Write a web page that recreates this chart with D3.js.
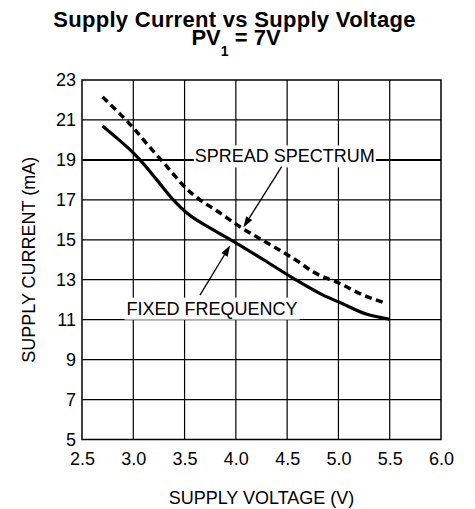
<!DOCTYPE html>
<html>
<head>
<meta charset="utf-8">
<script src="https://cdn.jsdelivr.net/npm/d3@7"></script>
<style>
  html, body { margin: 0; padding: 0; background: #fff; }
  svg { display: block; }
  text { font-family: "Liberation Sans", Arial, Helvetica, sans-serif; fill: #000; }
</style>
</head>
<body>
<svg id="chart" width="475" height="509"></svg>
<script>
// ---- data ----
const xTicks = [2.5, 3.0, 3.5, 4.0, 4.5, 5.0, 5.5, 6.0];
const yTicks = [5, 7, 9, 11, 13, 15, 17, 19, 21, 23];

const fixedV = [2.70, 2.85, 3.00, 3.10, 3.23, 3.39, 3.52, 3.78, 4.00, 4.27, 4.56, 4.85, 5.01, 5.27, 5.50];
const fixedI = [20.70, 20.05, 19.35, 18.80, 18.00, 17.00, 16.35, 15.50, 14.85, 14.00, 13.07, 12.23, 11.87, 11.28, 11.02];

const spreadV = [2.70, 3.00, 3.15, 3.34, 3.50, 3.65, 3.80, 4.04, 4.37, 4.61, 4.75, 5.01, 5.24, 5.45];
const spreadI = [22.15, 20.60, 19.70, 18.60, 17.65, 17.00, 16.50, 15.65, 14.65, 13.90, 13.40, 12.82, 12.23, 11.85];

// ---- layout ----
const svg = d3.select("#chart");
const x = d3.scaleLinear().domain([2.5, 6.0]).range([82, 441]);
const y = d3.scaleLinear().domain([5, 23]).range([439.5, 80]);

// title
svg.append("text")
  .attr("x", 234.5).attr("y", 26.5)
  .attr("text-anchor", "middle")
  .style("font-weight", "bold").style("font-size", "22px")
  .style("letter-spacing", "0.3px")
  .text("Supply Current vs Supply Voltage");
const t2 = svg.append("text")
  .attr("x", 236).attr("y", 44.5)
  .attr("text-anchor", "middle")
  .style("font-weight", "bold").style("font-size", "22px");
t2.append("tspan").text("PV");
t2.append("tspan").attr("dy", 11).style("font-size", "14px").text("1");
t2.append("tspan").attr("dy", -11).text(" = 7V");

// grid
const g = svg.append("g");
g.selectAll("line.vx").data(xTicks.slice(1, -1)).join("line")
  .attr("x1", d => x(d)).attr("x2", d => x(d))
  .attr("y1", y(5)).attr("y2", y(23))
  .attr("stroke", "#000").attr("stroke-width", 1.2);
g.selectAll("line.hy").data(yTicks.slice(1, -1)).join("line")
  .attr("x1", x(2.5)).attr("x2", x(6.0))
  .attr("y1", d => y(d)).attr("y2", d => y(d))
  .attr("stroke", "#000").attr("stroke-width", 1.2);

// frame
svg.append("rect")
  .attr("x", x(2.5)).attr("y", y(23))
  .attr("width", x(6.0) - x(2.5)).attr("height", y(5) - y(23))
  .attr("fill", "none").attr("stroke", "#000").attr("stroke-width", 1.5);

// axes tick labels via d3 axes
const xAxis = d3.axisBottom(x).tickValues(xTicks).tickSize(0).tickPadding(13)
  .tickFormat(d3.format(".1f"));
const xa = svg.append("g").attr("transform", `translate(0,${y(5)})`).call(xAxis);
xa.select(".domain").remove();
xa.selectAll("text").style("font-size", "18px")
  .style("font-family", '"Liberation Sans", Arial, sans-serif');

const yAxis = d3.axisLeft(y).tickValues(yTicks).tickSize(0).tickPadding(6)
  .tickFormat(d3.format("d"));
const ya = svg.append("g").attr("transform", `translate(${x(2.5)},0)`).call(yAxis);
ya.select(".domain").remove();
ya.selectAll("text").style("font-size", "18px")
  .style("font-family", '"Liberation Sans", Arial, sans-serif');

// axis titles
svg.append("text")
  .attr("x", (x(2.5) + x(6.0)) / 2).attr("y", 504)
  .attr("text-anchor", "middle").style("font-size", "18px")
  .text("SUPPLY VOLTAGE (V)");
svg.append("text")
  .attr("transform", `translate(35,${(y(5) + y(23)) / 2}) rotate(-90)`)
  .attr("text-anchor", "middle").style("font-size", "18px")
  .text("SUPPLY CURRENT (mA)");

// curves
const line = d3.line().curve(d3.curveMonotoneX);
svg.append("path")
  .attr("d", line(fixedV.map((v, i) => [x(v), y(fixedI[i])])))
  .attr("fill", "none").attr("stroke", "#000").attr("stroke-width", 3.2)
  .attr("stroke-linejoin", "round");
svg.append("path")
  .attr("d", line(spreadV.map((v, i) => [x(v), y(spreadI[i])])))
  .attr("fill", "none").attr("stroke", "#000").attr("stroke-width", 3.5)
  .attr("stroke-dasharray", "7,4.5");

// annotations (data coordinates)
function label(txt, v, I, dyPx, leader) {
  const tx = svg.append("text")
    .attr("x", x(v)).attr("y", y(I) + dyPx)
    .style("font-size", "18px").text(txt);
  const bb = tx.node().getBBox();
  svg.insert("rect", () => tx.node())
    .attr("x", bb.x - 2).attr("y", bb.y - 1)
    .attr("width", bb.width + 4).attr("height", bb.height + 2)
    .attr("fill", "#fff");
  if (leader) {
    svg.append("line").attr("x1", x(2.5)).attr("x2", bb.x - 1)
      .attr("y1", y(I)).attr("y2", y(I))
      .attr("stroke", "#000").attr("stroke-width", 2);
    svg.append("line").attr("x1", bb.x + bb.width + 1).attr("x2", x(6.0))
      .attr("y1", y(I)).attr("y2", y(I))
      .attr("stroke", "#000").attr("stroke-width", 2);
  }
}
label("SPREAD SPECTRUM", 3.60, 19, 2.5, true);
label("FIXED FREQUENCY", 2.935, 11, -5, false);

function arrow(v0, I0, v1, I1) {
  const x0 = x(v0), y0 = y(I0), x1 = x(v1), y1 = y(I1);
  const ang = Math.atan2(y1 - y0, x1 - x0);
  const len = 11, half = 3.6;
  const bx = x1 - len * Math.cos(ang), by = y1 - len * Math.sin(ang);
  svg.append("line").attr("x1", x0).attr("y1", y0).attr("x2", bx).attr("y2", by)
    .attr("stroke", "#000").attr("stroke-width", 1.3);
  const px = -Math.sin(ang) * half, py = Math.cos(ang) * half;
  svg.append("path")
    .attr("d", `M${x1},${y1}L${bx + px},${by + py}L${bx - px},${by - py}Z`)
    .attr("fill", "#000");
}
arrow(4.447, 18.66, 4.073, 15.62);
arrow(3.65, 12.23, 3.945, 14.72);
</script>
</body>
</html>
